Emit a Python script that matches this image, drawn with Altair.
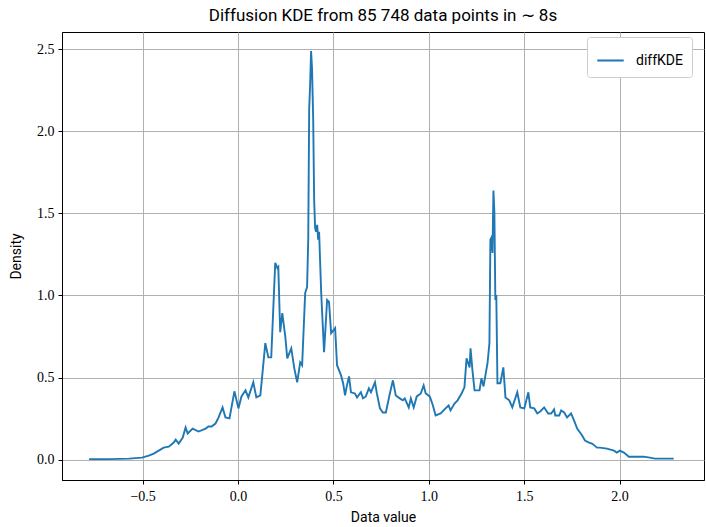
import altair as alt
import pandas as pd

x_vals = [-0.781, -0.677, -0.572, -0.504, -0.468, -0.442, -0.416, -0.390, -0.363, -0.337,
          -0.327, -0.311, -0.290, -0.275, -0.264, -0.238, -0.207, -0.170, -0.155, -0.139,
          -0.118, -0.102, -0.081, -0.066, -0.045, -0.019, 0.002, 0.018, 0.039, 0.054,
          0.080, 0.096, 0.117, 0.143, 0.159, 0.174, 0.195, 0.206, 0.211, 0.221,
          0.232, 0.248, 0.258, 0.279, 0.295, 0.310, 0.326, 0.336, 0.352, 0.362,
          0.368, 0.373, 0.378, 0.383, 0.388, 0.394, 0.399, 0.404, 0.409, 0.415,
          0.420, 0.425, 0.430, 0.436, 0.451, 0.467, 0.477, 0.488, 0.509, 0.519,
          0.540, 0.551, 0.561, 0.571, 0.582, 0.592, 0.613, 0.624, 0.644, 0.655,
          0.670, 0.686, 0.697, 0.718, 0.728, 0.744, 0.759, 0.775, 0.796, 0.812,
          0.827, 0.848, 0.864, 0.874, 0.895, 0.906, 0.921, 0.937, 0.958, 0.973,
          0.984, 1.005, 1.020, 1.036, 1.062, 1.088, 1.104, 1.114, 1.135, 1.151,
          1.172, 1.187, 1.198, 1.214, 1.219, 1.229, 1.240, 1.266, 1.276, 1.287,
          1.308, 1.318, 1.323, 1.328, 1.334, 1.339, 1.344, 1.349, 1.354, 1.360,
          1.375, 1.391, 1.402, 1.422, 1.438, 1.464, 1.480, 1.501, 1.522, 1.532,
          1.553, 1.569, 1.584, 1.605, 1.626, 1.642, 1.657, 1.663, 1.684, 1.694,
          1.710, 1.725, 1.746, 1.762, 1.778, 1.793, 1.804, 1.819, 1.840, 1.856,
          1.882, 1.897, 1.934, 1.971, 1.986, 2.002, 2.023, 2.049, 2.075, 2.127,
          2.159, 2.185, 2.211, 2.284]

density = [0.003, 0.003, 0.006, 0.012, 0.024, 0.037, 0.055, 0.073, 0.079, 0.104,
           0.122, 0.098, 0.134, 0.196, 0.159, 0.189, 0.171, 0.189, 0.202, 0.202,
           0.220, 0.257, 0.318, 0.257, 0.251, 0.416, 0.312, 0.385, 0.422, 0.379,
           0.471, 0.379, 0.391, 0.709, 0.623, 0.623, 1.198, 1.167, 1.174, 0.776,
           0.892, 0.746, 0.617, 0.678, 0.556, 0.471, 0.593, 0.575, 1.015, 1.051,
           1.339, 2.133, 2.286, 2.488, 2.378, 2.072, 1.583, 1.412, 1.388, 1.430,
           1.339, 1.388, 1.216, 1.015, 0.654, 0.972, 0.960, 0.770, 0.801, 0.575,
           0.513, 0.465, 0.391, 0.452, 0.507, 0.410, 0.403, 0.379, 0.410, 0.373,
           0.385, 0.434, 0.410, 0.471, 0.403, 0.312, 0.287, 0.287, 0.403, 0.483,
           0.391, 0.373, 0.361, 0.373, 0.318, 0.373, 0.318, 0.385, 0.403, 0.452,
           0.403, 0.385, 0.336, 0.269, 0.281, 0.312, 0.330, 0.300, 0.342, 0.361,
           0.403, 0.440, 0.617, 0.562, 0.678, 0.544, 0.422, 0.422, 0.495, 0.446,
           0.587, 0.709, 1.339, 1.351, 1.259, 1.638, 1.504, 0.972, 1.002, 0.465,
           0.465, 0.562, 0.379, 0.361, 0.318, 0.410, 0.318, 0.312, 0.410, 0.318,
           0.312, 0.281, 0.293, 0.318, 0.281, 0.281, 0.306, 0.269, 0.269, 0.300,
           0.287, 0.257, 0.281, 0.238, 0.189, 0.165, 0.147, 0.116, 0.104, 0.098,
           0.073, 0.073, 0.067, 0.055, 0.043, 0.055, 0.043, 0.018, 0.018, 0.018,
           0.012, 0.006, 0.006, 0.006]

x_ticks = [-0.5, 0.0, 0.5, 1.0, 1.5, 2.0]
y_ticks = [0.0, 0.5, 1.0, 1.5, 2.0, 2.5]

df = pd.DataFrame({"x": x_vals, "y": density, "series": "diffKDE"})

serif = "Liberation Serif"
sans = "Roboto"

chart = alt.Chart(df).mark_line(strokeWidth=1.9).encode(
    x=alt.X("x:Q",
            scale=alt.Scale(domain=[-0.923, 2.443], nice=False, zero=False),
            axis=alt.Axis(values=x_ticks, format=".1f", title="Data value",
                          labelFont=serif, labelFontSize=14, labelColor="black",
                          titleFont=sans, titleFontSize=14, titleFontWeight="normal",
                          titleColor="black", titlePadding=7,
                          tickColor="black", tickSize=4, domainColor="black",
                          gridColor="#b0b0b0", gridWidth=1, labelPadding=5)),
    y=alt.Y("y:Q",
            scale=alt.Scale(domain=[-0.124, 2.604], nice=False, zero=False),
            axis=alt.Axis(values=y_ticks, format=".1f", title="Density",
                          labelFont=serif, labelFontSize=14, labelColor="black",
                          titleFont=sans, titleFontSize=14, titleFontWeight="normal",
                          titleColor="black", titlePadding=13,
                          tickColor="black", tickSize=4, domainColor="black",
                          gridColor="#b0b0b0", gridWidth=1, labelPadding=4)),
    color=alt.Color("series:N",
                    scale=alt.Scale(domain=["diffKDE"], range=["#1f77b4"]),
                    legend=alt.Legend(title=None, orient="none",
                                      legendX=525, legendY=5,
                                      symbolType="stroke", symbolSize=700,
                                      symbolStrokeWidth=2,
                                      labelFont=sans, labelFontSize=14,
                                      labelColor="black",
                                      strokeColor="#cccccc", fillColor="white",
                                      padding=9, cornerRadius=3,
                                      labelOffset=11)),
).properties(
    width=642,
    height=448,
    title=alt.TitleParams("Diffusion KDE from 85 748 data points in \u223c 8s",
                          font=sans, fontSize=17, fontWeight="normal",
                          color="black", anchor="middle", offset=7),
    autosize=alt.AutoSizeParams(type="none"),
    padding={"left": 62, "top": 32, "right": 2, "bottom": 47},
).configure_view(stroke="black", strokeWidth=1)

chart.save("out.html", embed_options={"renderer": "svg", "actions": False})
